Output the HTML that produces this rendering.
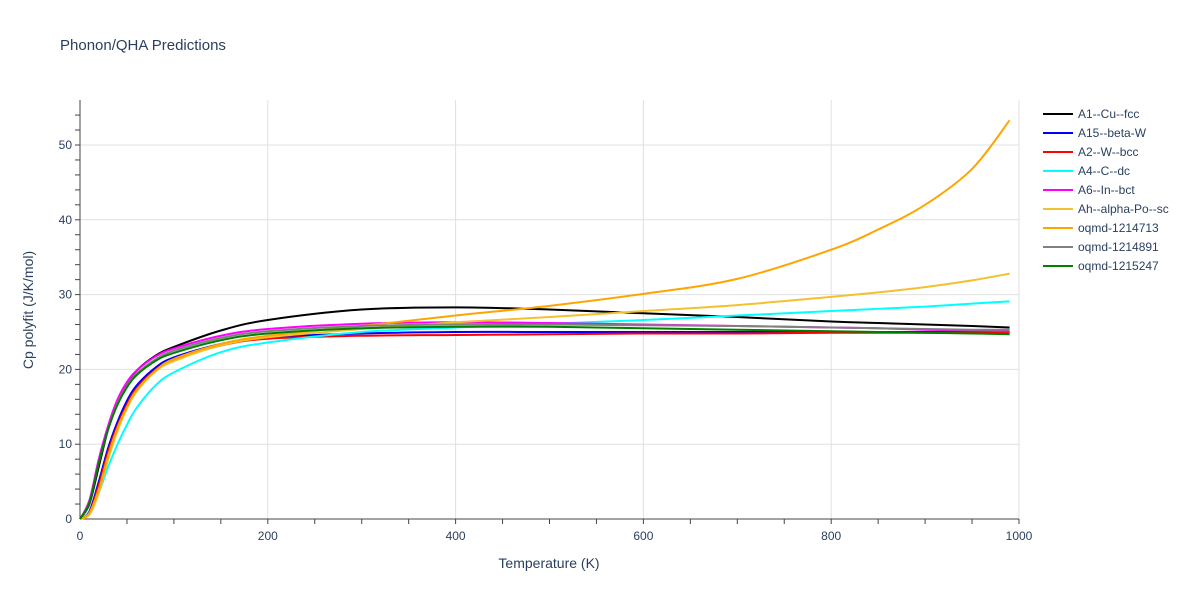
<!DOCTYPE html>
<html><head><meta charset="utf-8"><style>
body{margin:0;background:#fff;font-family:"Liberation Sans",sans-serif;}
svg text{font-family:"Liberation Sans",sans-serif;fill:#2a3f5f;}
</style></head><body>
<svg id="c" width="1200" height="600">
<text x="60" y="50" font-size="15">Phonon/QHA Predictions</text>
<text x="549" y="568" font-size="14" text-anchor="middle">Temperature (K)</text>
<text x="0" y="0" font-size="14" text-anchor="middle" transform="translate(33,310) rotate(-90)">Cp polyfit (J/K/mol)</text>
<g id="grid"></g><g id="axes"></g><g id="series"></g><g id="legend"></g>
</svg>
<script>
const temps=[0,10,20,30,40,50,60,80,100,150,200,300,400,500,600,700,800,850,900,950,990];
const names=["A1--Cu--fcc","A15--beta-W","A2--W--bcc","A4--C--dc","A6--In--bct","Ah--alpha-Po--sc","oqmd-1214713","oqmd-1214891","oqmd-1215247"];
const colors=["#000000","#0000ff","#ff0000","#00ffff","#ff00ff","#f2c12e","#ffa500","#808080","#008000"];
const sA1=[0,2,7,12,15.5,18,19.8,21.8,23,25.2,26.6,28,28.3,28,27.5,27,26.4,26.2,26,25.8,25.6];
const sA15=[0,1,5,9.5,13,15.8,17.8,20.2,21.6,23.4,24.3,24.8,25,25,25,25,25,25,25,25,25];
const sA2=[0,0.8,4.5,9,12.5,15.3,17.4,19.9,21.3,23.2,24.1,24.5,24.6,24.7,24.8,24.8,24.9,24.9,24.9,24.9,24.9];
const sA4=[0,0.8,3.5,7,10,12.6,14.8,17.8,19.6,22.3,23.6,25,25.6,26.1,26.6,27.2,27.8,28.1,28.4,28.8,29.1];
const sA6=[0,2.5,8,12.5,16,18.3,19.8,21.7,22.8,24.5,25.4,26.1,26.3,26.2,26,25.8,25.6,25.5,25.3,25.2,25.1];
const sAh=[0,0.6,3.5,8,11.8,14.8,17,19.7,21.1,23.2,24.3,25.4,26.3,27,27.8,28.6,29.7,30.3,31,31.9,32.8];
const s713=[0,0.8,4,8.5,12.2,15,17.2,19.8,21.4,23.4,24.5,25.8,27.2,28.5,30.1,32.1,36,38.7,42,46.8,53.3];
const s891=[0,2.2,7.5,12,15.5,17.8,19.4,21.3,22.5,24.2,25.1,25.8,26,26,25.9,25.8,25.6,25.5,25.4,25.3,25.3];
const s247=[0,2.2,7.5,12,15.3,17.6,19.2,21.1,22.2,23.9,24.8,25.5,25.7,25.7,25.5,25.3,25.1,25,24.9,24.8,24.7];
const series=[sA1,sA15,sA2,sA4,sA6,sAh,s713,s891,s247];
const xTicks=[0,200,400,600,800,1000];
const yTicks=[0,10,20,30,40,50];
const X=t=>80+t*0.939, Y=v=>519-v*7.48;
const NS="http://www.w3.org/2000/svg";
function mk(tag,attrs,parent){const e=document.createElementNS(NS,tag);for(const k in attrs)e.setAttribute(k,attrs[k]);parent.appendChild(e);return e;}
const grid=document.getElementById('grid'),axes=document.getElementById('axes');
xTicks.forEach(t=>{
 if(t>0){const l=mk('line',{x1:X(t),x2:X(t),y1:100,y2:519,stroke:'#e0e0e0'},grid);
 
 }
 const tx=mk('text',{x:X(t),y:540,'font-size':12,'text-anchor':'middle'},axes);tx.textContent=t;
 
 
});
for(let t=50;t<=1000;t+=50){mk('line',{x1:X(t),x2:X(t),y1:519,y2:524,stroke:'#444'},axes);}
yTicks.forEach(v=>{
 if(v>0){const l=mk('line',{x1:80,x2:1019,y1:Y(v),y2:Y(v),stroke:'#e0e0e0'},grid);
 
 }
 const tx=mk('text',{x:72,y:Y(v)+4,'font-size':12,'text-anchor':'end'},axes);tx.textContent=v;
 
 
});
for(let v=2;v<=54;v+=2){mk('line',{x1:75,x2:80,y1:Y(v),y2:Y(v),stroke:'#444'},axes);}
const ya=mk('line',{x1:80,x2:80,y1:100,y2:519,stroke:'#444'},axes);


const xa=mk('line',{x1:80,x2:1019,y1:519,y2:519,stroke:'#444'},axes);


function path(vals){
 const p=vals.map((v,i)=>[X(temps[i]),Y(v)]);
 let d='M'+p[0][0]+','+p[0][1];
 for(let i=0;i<p.length-1;i++){
  const p0=p[Math.max(i-1,0)],p1=p[i],p2=p[i+1],p3=p[Math.min(i+2,p.length-1)];
  const c1=[p1[0]+(p2[0]-p0[0])/6,p1[1]+(p2[1]-p0[1])/6],c2=[p2[0]-(p3[0]-p1[0])/6,p2[1]-(p3[1]-p1[1])/6];
  d+=`C${c1[0]},${c1[1]} ${c2[0]},${c2[1]} ${p2[0]},${p2[1]}`;
 }
 return d;
}
const sg=document.getElementById('series'),lg=document.getElementById('legend');
series.forEach((s,i)=>{
 const pe=mk('path',{d:path(s),fill:'none',stroke:colors[i],'stroke-width':2},sg);
 
 
 const g=mk('g',{},lg);
 
 
 const y=114+i*19;
 mk('line',{x1:1043,x2:1073,y1:y,y2:y,stroke:colors[i],'stroke-width':2},g);
 const t=mk('text',{x:1078,y:y+4,'font-size':12},g);t.textContent=names[i];
});
</script>
</body></html>
